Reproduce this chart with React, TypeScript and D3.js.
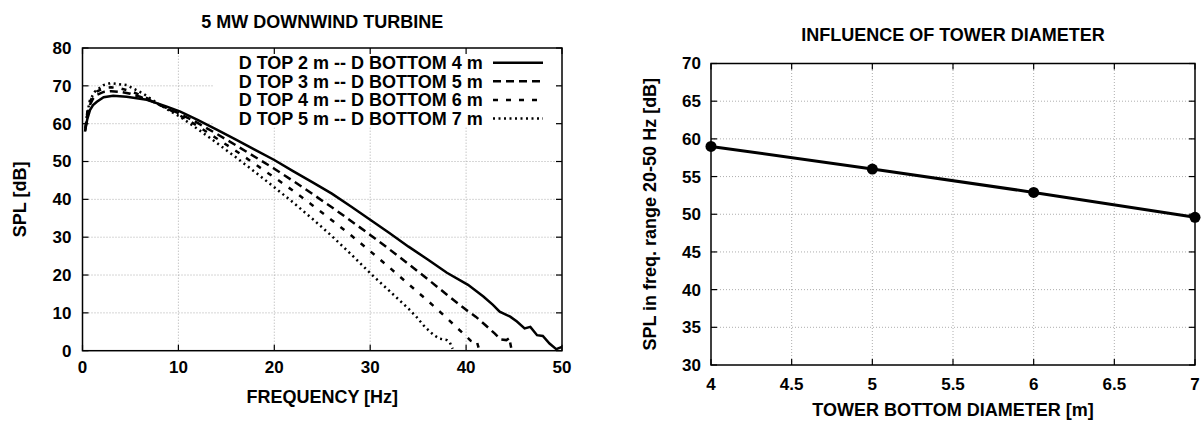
import * as d3 from 'd3';

// left panel: SPL spectra for four tower geometries
const freqTop2 = [0.26, 0.5, 0.78, 1.1, 1.5, 2.2, 3.2, 4.6, 6.7, 8.8, 10.2, 12, 14, 16, 18, 20, 22, 24, 26, 28, 30, 32, 34, 36, 38, 40.2, 41.8, 42.8, 43.5, 44.6, 45.3, 46.1, 46.7, 47.4, 48.0, 48.7, 49.4, 50];
const splTop2 = [57.9, 61.2, 63.6, 64.9, 65.8, 67.0, 67.4, 67.1, 66.3, 64.5, 63.2, 61.0, 58.4, 55.8, 53.1, 50.4, 47.4, 44.5, 41.5, 38.1, 34.6, 31.1, 27.5, 24.1, 20.6, 17.4, 14.3, 12.1, 10.3, 9.0, 7.7, 5.9, 6.3, 4.1, 3.9, 1.9, 0.4, 1.0];

const freqTop3 = [0.28, 0.5, 0.78, 1.1, 1.5, 2.2, 3, 4, 5, 6, 7, 8, 9, 10, 12, 14, 16, 18, 20, 22, 24, 26, 28, 30, 32, 34, 36, 38, 40, 41, 42, 43, 43.6, 44.2, 44.5, 44.7];
const splTop3 = [58.2, 62.3, 65.0, 66.6, 67.6, 68.4, 68.6, 68.4, 67.9, 67.1, 66.2, 65.0, 63.9, 62.8, 60.2, 57.3, 54.3, 51.2, 48.1, 44.8, 41.4, 37.9, 34.3, 30.6, 26.8, 22.9, 18.9, 14.8, 10.8, 9.0, 6.8, 4.5, 3.0, 2.8, 3.3, 0.8];

const freqTop4 = [0.3, 0.5, 0.78, 1.1, 1.5, 2.2, 3, 4, 5, 6, 7, 8, 9, 10, 12, 14, 16, 18, 20, 22, 24, 26, 28, 30, 32, 34, 36, 38, 39, 40, 40.5, 40.9, 41.1, 41.3];
const splTop4 = [58.8, 63.0, 65.8, 67.4, 68.5, 69.4, 69.6, 69.3, 68.6, 67.6, 66.4, 65.0, 63.8, 62.4, 59.4, 56.1, 52.8, 49.3, 45.8, 42.2, 38.4, 34.5, 30.5, 26.3, 22.0, 17.6, 13.2, 8.6, 6.2, 3.8, 2.6, 2.2, 2.6, 0.8];

const freqTop5 = [0.36, 0.5, 0.78, 1.3, 2.2, 2.9, 4.6, 6.3, 8.1, 10.2, 12, 14, 16, 18, 20, 22, 24, 26, 28, 30.2, 32, 34, 34.8, 35.7, 36.6, 37.2, 38.0, 38.3, 38.6];
const splTop5 = [60.0, 62.8, 66.3, 68.5, 70.2, 70.7, 70.2, 68.0, 64.9, 61.8, 58.6, 54.9, 51.1, 47.2, 43.2, 39.1, 34.8, 30.3, 25.5, 20.0, 15.8, 11.1, 9.0, 6.3, 4.2, 3.2, 2.8, 2.2, 0.5];

const seriesLabels = [
  'D TOP 2 m -- D BOTTOM 4 m',
  'D TOP 3 m -- D BOTTOM 5 m',
  'D TOP 4 m -- D BOTTOM 6 m',
  'D TOP 5 m -- D BOTTOM 7 m',
];
const freqTicks = [0, 10, 20, 30, 40, 50];
const splTicks = [0, 10, 20, 30, 40, 50, 60, 70, 80];

// right panel: band SPL against tower bottom diameter
const diameters = [4, 5, 6, 7];
const bandSpl = [59.0, 56.0, 52.9, 49.6];
const diamTicks = [4, 4.5, 5, 5.5, 6, 6.5, 7];
const bandTicks = [30, 35, 40, 45, 50, 55, 60, 65, 70];

const FONT = '"Liberation Sans", Arial, Helvetica, sans-serif';
const dashes = [null, '8,5', '5,8', '2,3.5'];

const App = () => {
  // left panel geometry
  const x1 = d3.scaleLinear().domain([0, 50]).range([82.5, 562]);
  const y1 = d3.scaleLinear().domain([0, 80]).range([350.7, 48]);
  // right panel geometry
  const x2 = d3.scaleLinear().domain([4, 7]).range([711, 1195]);
  const y2 = d3.scaleLinear().domain([30, 70]).range([365, 63.5]);

  const series = [
    { f: freqTop2, v: splTop2 },
    { f: freqTop3, v: splTop3 },
    { f: freqTop4, v: splTop4 },
    { f: freqTop5, v: splTop5 },
  ];

  const line1 = d3.line<[number, number]>()
    .x(d => x1(d[0]))
    .y(d => y1(d[1]));
  const line2 = d3.line<[number, number]>()
    .x(d => x2(d[0]))
    .y(d => y2(d[1]));

  const gridStyle = { stroke: '#999', strokeWidth: 0.8, strokeDasharray: '1,2' };
  const tick = 6;

  const [l1, r1] = x1.range();
  const [b1, t1] = y1.range();
  const [l2, r2] = x2.range();
  const [b2, t2] = y2.range();

  return (
    <svg width={1203} height={421} style={{ position: 'absolute', left: 0, top: 0, background: '#fff' }}
      fontFamily={FONT} fontWeight="bold">
      <defs>
        <clipPath id="clipLeft">
          <rect x={l1} y={t1} width={r1 - l1} height={b1 - t1} />
        </clipPath>
      </defs>

      {/* ---------- left chart ---------- */}
      <text x={(l1 + r1) / 2} y={21.7} dy="0.35em" textAnchor="middle" fontSize={18}>5 MW DOWNWIND TURBINE</text>

      {freqTicks.slice(1, -1).map(t => (
        <line key={'gx' + t} x1={x1(t)} x2={x1(t)} y1={b1} y2={t1} {...gridStyle} />
      ))}
      {splTicks.slice(1, -1).map(t => (
        <line key={'gy' + t} x1={l1} x2={r1} y1={y1(t)} y2={y1(t)} {...gridStyle} />
      ))}
      {/* opaque key box hides the grid */}
      <rect x={213} y={t1 + 1} width={343} height={77} fill="#fff" />

      <g clipPath="url(#clipLeft)" fill="none" stroke="#000" strokeWidth={2.5}>
        {series.map((s, i) => (
          <path key={i} d={line1(s.f.map((f, j) => [f, s.v[j]]) as [number, number][]) || ''}
            strokeDasharray={dashes[i] || undefined} />
        ))}
      </g>

      {freqTicks.map(t => (
        <g key={'tx' + t} stroke="#000" strokeWidth={1.2}>
          <line x1={x1(t)} x2={x1(t)} y1={b1} y2={b1 - tick} />
          <line x1={x1(t)} x2={x1(t)} y1={t1} y2={t1 + tick} />
        </g>
      ))}
      {splTicks.map(t => (
        <g key={'ty' + t} stroke="#000" strokeWidth={1.2}>
          <line x1={l1} x2={l1 + tick} y1={y1(t)} y2={y1(t)} />
          <line x1={r1} x2={r1 - tick} y1={y1(t)} y2={y1(t)} />
        </g>
      ))}
      <rect x={l1} y={t1} width={r1 - l1} height={b1 - t1} fill="none" stroke="#000" strokeWidth={1.5} />

      {freqTicks.map(t => (
        <text key={'lx' + t} x={x1(t)} y={367.5} dy="0.35em" textAnchor="middle" fontSize={17}>{t}</text>
      ))}
      {splTicks.map(t => (
        <text key={'ly' + t} x={l1 - 11} y={y1(t)} dy="0.35em" textAnchor="end" fontSize={17}>{t}</text>
      ))}
      <text x={(l1 + r1) / 2} y={397} dy="0.35em" textAnchor="middle" fontSize={18}>FREQUENCY [Hz]</text>
      <text transform={`translate(19.6,${(t1 + b1) / 2}) rotate(-90)`} dy="0.35em" textAnchor="middle" fontSize={18}>SPL [dB]</text>

      {seriesLabels.map((lab, i) => {
        const yy = 62.7 + i * 18.6;
        return (
          <g key={'key' + i}>
            <text x={482.7} y={yy} dy="0.35em" textAnchor="end" fontSize={18}>{lab}</text>
            <line x1={493} x2={543} y1={yy} y2={yy} stroke="#000" strokeWidth={2.5}
              strokeDasharray={dashes[i] || undefined} />
          </g>
        );
      })}

      {/* ---------- right chart ---------- */}
      <text x={(l2 + r2) / 2} y={35} dy="0.35em" textAnchor="middle" fontSize={18}>INFLUENCE OF TOWER DIAMETER</text>

      {diamTicks.slice(1, -1).map(t => (
        <line key={'g2x' + t} x1={x2(t)} x2={x2(t)} y1={b2} y2={t2} {...gridStyle} />
      ))}
      {bandTicks.slice(1, -1).map(t => (
        <line key={'g2y' + t} x1={l2} x2={r2} y1={y2(t)} y2={y2(t)} {...gridStyle} />
      ))}
      {diamTicks.map(t => (
        <g key={'t2x' + t} stroke="#000" strokeWidth={1.2}>
          <line x1={x2(t)} x2={x2(t)} y1={b2} y2={b2 - tick} />
          <line x1={x2(t)} x2={x2(t)} y1={t2} y2={t2 + tick} />
        </g>
      ))}
      {bandTicks.map(t => (
        <g key={'t2y' + t} stroke="#000" strokeWidth={1.2}>
          <line x1={l2} x2={l2 + tick} y1={y2(t)} y2={y2(t)} />
          <line x1={r2} x2={r2 - tick} y1={y2(t)} y2={y2(t)} />
        </g>
      ))}
      <rect x={l2} y={t2} width={r2 - l2} height={b2 - t2} fill="none" stroke="#000" strokeWidth={1.5} />

      <path d={line2(diameters.map((d, i) => [d, bandSpl[i]]) as [number, number][]) || ''}
        fill="none" stroke="#000" strokeWidth={3} />
      {diameters.map((d, i) => (
        <circle key={'pt' + d} cx={x2(d)} cy={y2(bandSpl[i])} r={5.5} fill="#000" />
      ))}

      {diamTicks.map(t => (
        <text key={'l2x' + t} x={x2(t)} y={384} dy="0.35em" textAnchor="middle" fontSize={17}>{t}</text>
      ))}
      {bandTicks.map(t => (
        <text key={'l2y' + t} x={l2 - 10} y={y2(t)} dy="0.35em" textAnchor="end" fontSize={17}>{t}</text>
      ))}
      <text x={(l2 + r2) / 2} y={410} dy="0.35em" textAnchor="middle" fontSize={18}>TOWER BOTTOM DIAMETER [m]</text>
      <text transform={`translate(650,${(t2 + b2) / 2}) rotate(-90)`} dy="0.35em" textAnchor="middle" fontSize={18}>SPL in freq. range 20-50 Hz [dB]</text>
    </svg>
  );
};

export default App;
